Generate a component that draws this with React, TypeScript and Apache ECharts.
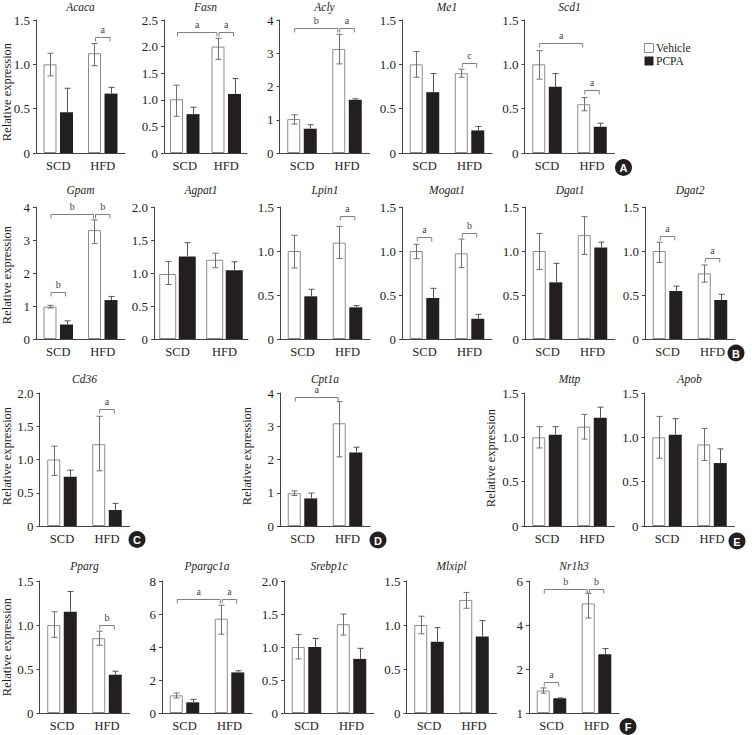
import React, { useEffect, useRef } from 'react';
import * as echarts from 'echarts';

// ---------- data ----------
const genes = ['Acaca', 'Fasn', 'Acly', 'Me1', 'Scd1', 'Gpam', 'Agpat1', 'Lpin1', 'Mogat1', 'Dgat1', 'Dgat2', 'Cd36', 'Cpt1a', 'Mttp', 'Apob', 'Pparg', 'Ppargc1a', 'Srebp1c', 'Mlxipl', 'Nr1h3'];
const diets = ['SCD', 'HFD'];
const treatments = ['Vehicle', 'PCPA'];
const panelLetters = ['A', 'B', 'C', 'D', 'E', 'F'];
const yAxisTitle = 'Relative expression';

// [SCD, HFD] per gene
const vehicleMean = [
  [1.0, 1.125], [1.01, 2.0], [1.02, 3.13], [1.0, 0.9], [1.0, 0.55],
  [0.98, 3.3], [0.985, 1.2], [1.0, 1.095], [1.0, 0.973], [1.0, 1.18], [1.0, 0.746],
  [1.0, 1.23], [0.985, 3.09], [1.0, 1.12], [1.0, 0.92],
  [1.0, 0.85], [1.07, 5.72], [1.0, 1.345], [1.0, 1.285], [1.02, 4.98],
];
const vehicleErrUp = [
  [0.125, 0.11], [0.265, 0.156], [0.13, 0.44], [0.144, 0.045], [0.155, 0.076],
  [0.04, 0.31], [0.19, 0.1], [0.178, 0.185], [0.076, 0.163], [0.2, 0.21], [0.1, 0.095],
  [0.2, 0.42], [0.07, 0.65], [0.12, 0.14], [0.236, 0.18],
  [0.15, 0.08], [0.14, 0.81], [0.19, 0.155], [0.1, 0.085], [0.12, 0.46],
];
const vehicleErrDown = [
  [0.13, 0.14], [0.32, 0.24], [0.15, 0.45], [0.145, 0.045], [0.167, 0.074],
  [0.04, 0.41], [0.16, 0.12], [0.193, 0.18], [0.087, 0.16], [0.21, 0.22], [0.13, 0.1],
  [0.24, 0.4], [0.07, 1.01], [0.12, 0.14], [0.235, 0.18],
  [0.14, 0.08], [0.16, 0.94], [0.18, 0.165], [0.1, 0.095], [0.12, 0.66],
];
const pcpaMean = [
  [0.46, 0.67], [0.73, 1.11], [0.73, 1.6], [0.686, 0.255], [0.746, 0.296],
  [0.44, 1.18], [1.25, 1.04], [0.485, 0.36], [0.466, 0.23], [0.644, 1.04], [0.545, 0.443],
  [0.74, 0.24], [0.83, 2.21], [1.03, 1.22], [1.03, 0.71],
  [1.15, 0.435], [0.645, 2.46], [1.0, 0.82], [0.81, 0.87], [0.67, 2.67],
];
const pcpaErr = [
  [0.27, 0.07], [0.13, 0.29], [0.12, 0.03], [0.21, 0.045], [0.15, 0.04],
  [0.11, 0.11], [0.21, 0.13], [0.08, 0.02], [0.11, 0.05], [0.216, 0.06], [0.055, 0.065],
  [0.1, 0.1], [0.16, 0.16], [0.09, 0.12], [0.18, 0.16],
  [0.23, 0.04], [0.18, 0.1], [0.13, 0.16], [0.16, 0.18], [0.015, 0.26],
];

const yMax = [1.5, 2.5, 4, 1.5, 1.5, 4, 2, 1.5, 1.5, 1.5, 1.5, 2, 4, 1.5, 1.5, 1.5, 8, 2, 1.5, 6];
const yStep = [0.5, 0.5, 1, 0.5, 0.5, 1, 0.5, 0.5, 0.5, 0.5, 0.5, 0.5, 1, 0.5, 0.5, 0.5, 2, 0.5, 0.5, 2];

const ticks15 = ['0', '0.5', '1.0', '1.5'];
const ticks20 = ['0', '0.5', '1.0', '1.5', '2.0'];
const ticks25 = ['0', '0.5', '1.0', '1.5', '2.0', '2.5'];
const ticks4 = ['0', '1', '2', '3', '4'];
const ticks8 = ['0', '2', '4', '6', '8'];
const ticksNr1h3 = ['1', '2', '4', '6'];
const yTickLabels = [
  ticks15, ticks25, ticks4, ticks15, ticks15,
  ticks4, ticks20, ticks15, ticks15, ticks15, ticks15,
  ticks20, ticks4, ticks15, ticks15,
  ticks15, ticks8, ticks20, ticks15, ticksNr1h3,
];

// significance brackets: [fromBar, toBar, yValue, label]; bars 0=SCD Vehicle,1=SCD PCPA,2=HFD Vehicle,3=HFD PCPA
const brackets: [number, number, number, string][][] = [
  [[2, 3, 1.31, 'a']],
  [[0, 2, 2.28, 'a'], [2, 3, 2.28, 'a']],
  [[0, 2, 3.75, 'b'], [2, 3, 3.75, 'a']],
  [[2, 3, 1.02, 'c']],
  [[0, 2, 1.24, 'a'], [2, 3, 0.71, 'a']],
  [[0, 2, 3.8, 'b'], [2, 3, 3.8, 'b'], [0, 1, 1.42, 'b']],
  [],
  [[2, 3, 1.4, 'a']],
  [[0, 1, 1.155, 'a'], [2, 3, 1.21, 'b']],
  [],
  [[0, 1, 1.17, 'a'], [2, 3, 0.92, 'a']],
  [[2, 3, 1.76, 'a']],
  [[0, 2, 3.88, 'a']],
  [],
  [],
  [[2, 3, 1.0, 'b']],
  [[0, 2, 6.93, 'a'], [2, 3, 6.93, 'a']],
  [],
  [],
  [[0, 1, 1.4, 'a'], [0, 2, 5.65, 'b'], [2, 3, 5.65, 'b']],
];

// ---------- layout (positions / sizes) ----------
// [left, top, width, height, barWidth, barGapRatio, titleY]
const panelLayout = [
  [36, 20, 89, 133, 13, 0.27, 7],
  [164, 20, 83, 133, 13, 0.27, 7],
  [279.5, 20, 90, 133, 13, 0.27, 7],
  [402, 20, 90, 133, 13, 0.27, 7],
  [524.5, 20, 90, 133, 13, 0.27, 7],
  [36, 207, 89, 132, 13, 0.27, 190],
  [154, 207, 94, 132, 17, 0.15, 190],
  [280, 207, 90, 132, 13, 0.27, 190],
  [402, 207, 90, 132, 13, 0.27, 190],
  [525, 207, 90, 132, 13, 0.27, 190],
  [645, 207, 90, 132, 13, 0.27, 190],
  [39.5, 393, 90, 133, 13, 0.27, 379],
  [280, 393, 90, 133, 13, 0.27, 379],
  [524.5, 393, 90, 133, 13, 0.27, 379],
  [644.5, 393, 90, 133, 13, 0.27, 379],
  [39.5, 581, 90, 132, 13, 0.27, 566],
  [162, 581, 90, 132, 13, 0.27, 566],
  [284, 581, 90, 132, 13, 0.27, 566],
  [406.5, 581, 90, 132, 13, 0.27, 566],
  [529, 581, 90, 132, 13, 0.27, 566],
];
const yNamePos = [[7, 92], [7, 275], [7, 456], [247, 456], [491, 458], [7, 647]];
const letterPos = [[623.5, 167.5], [736, 353], [137, 539.5], [378, 540], [737, 541], [628, 726.5]];

const SERIF = 'Liberation Serif, Times New Roman, serif';
const TXT = '#231f20';
const AXIS = '#444';
const BLACK = '#231f20';

function buildOption() {
  const grid: any[] = [];
  const xAxis: any[] = [];
  const yAxis: any[] = [];
  const series: any[] = [];
  const graphic: any[] = [];

  genes.forEach((gene, i) => {
    const [L, T, W, H, bw, gap, titleY] = panelLayout[i];
    const off = (bw * (1 + gap)) / 2;
    grid.push({ left: L, top: T, width: W, height: H, containLabel: false });
    xAxis.push({
      type: 'category', gridIndex: i, data: diets,
      axisLine: { show: true, lineStyle: { color: AXIS, width: 1 } },
      axisTick: { show: false },
      axisLabel: { color: TXT, fontFamily: SERIF, fontSize: 12.5, margin: 6, interval: 0 },
    });
    yAxis.push({
      type: 'value', gridIndex: i, min: 0, max: yMax[i], interval: yStep[i],
      axisLine: { show: true, lineStyle: { color: AXIS, width: 1 } },
      axisTick: { show: true, length: 3, lineStyle: { color: AXIS } },
      splitLine: { show: false },
      axisLabel: {
        color: TXT, fontFamily: SERIF, fontSize: 13, margin: 6,
        formatter: (v: number) => yTickLabels[i][Math.round(v / yStep[i])] ?? '',
      },
    });
    series.push({
      type: 'bar', name: treatments[0], xAxisIndex: i, yAxisIndex: i, data: vehicleMean[i],
      barWidth: bw, barGap: `${gap * 100}%`, z: 2, silent: true,
      itemStyle: { color: '#ffffff', borderColor: '#8c8c8c', borderWidth: 1 },
    });
    series.push({
      type: 'bar', name: treatments[1], xAxisIndex: i, yAxisIndex: i, data: pcpaMean[i],
      barWidth: bw, barGap: `${gap * 100}%`, z: 2, silent: true,
      itemStyle: { color: BLACK },
    });
    [0, 1].forEach((t) => {
      const isVeh = t === 0;
      series.push({
        type: 'custom', xAxisIndex: i, yAxisIndex: i, z: 3, silent: true,
        encode: { x: 0, y: 1 },
        data: [0, 1].map((k) => isVeh
          ? [k, vehicleMean[i][k], vehicleErrUp[i][k], vehicleErrDown[i][k]]
          : [k, pcpaMean[i][k], pcpaErr[i][k], 0]),
        renderItem: (params: any, api: any) => {
          const k = params.dataIndex;
          const m = api.value(1), up = api.value(2), dn = api.value(3);
          const pTop = api.coord([k, m + up]);
          const pBot = api.coord([k, m - dn]);
          const x = Math.round(pTop[0] + (isVeh ? -off : off)) + 0.5;
          const col = isVeh ? '#6f6f6f' : '#555';
          const cap = 3;
          const st = { stroke: col, lineWidth: 1 };
          const children: any[] = [
            { type: 'line', shape: { x1: x, y1: pTop[1], x2: x, y2: pBot[1] }, style: st },
            { type: 'line', shape: { x1: x - cap, y1: pTop[1], x2: x + cap, y2: pTop[1] }, style: st },
          ];
          if (isVeh) children.push({ type: 'line', shape: { x1: x - cap, y1: pBot[1], x2: x + cap, y2: pBot[1] }, style: st });
          return { type: 'group', children };
        },
      });
    });
    if (brackets[i].length) {
      series.push({
        type: 'custom', xAxisIndex: i, yAxisIndex: i, z: 4, silent: true,
        encode: { x: 0, y: 1 },
        data: brackets[i].map((b) => [Math.floor(b[0] / 2), b[2]]),
        renderItem: (params: any, api: any) => {
          const [from, to, yv, lab] = brackets[i][params.dataIndex];
          const xOf = (bar: number) => api.coord([Math.floor(bar / 2), yv])[0] + (bar % 2 === 0 ? -off : off);
          const x1 = xOf(from) + 1;
          const x2 = xOf(to) - 1;
          const y = Math.round(api.coord([0, yv])[1]) + 0.5;
          return {
            type: 'group',
            children: [
              {
                type: 'polyline',
                shape: { points: [[x1, y + 4], [x1, y], [x2, y], [x2, y + 4]] },
                style: { stroke: '#808080', fill: 'none', lineWidth: 1 },
              },
              {
                type: 'text', x: (x1 + x2) / 2, y: y - 3,
                style: {
                  text: lab, fill: '#444', font: `10px ${SERIF}`,
                  textAlign: 'center', align: 'center', textVerticalAlign: 'bottom', verticalAlign: 'bottom',
                },
              },
            ],
          };
        },
      });
    }
    graphic.push({
      type: 'text', x: L + W / 2, y: titleY, silent: true,
      style: {
        text: gene, fill: TXT, font: `italic 11.5px ${SERIF}`,
        textAlign: 'center', align: 'center', textVerticalAlign: 'middle', verticalAlign: 'middle',
      },
    });
  });

  yNamePos.forEach(([x, y]) => {
    graphic.push({
      type: 'text', x, y, rotation: Math.PI / 2, silent: true,
      style: {
        text: yAxisTitle, fill: TXT, font: `12.5px ${SERIF}`,
        textAlign: 'center', align: 'center', textVerticalAlign: 'middle', verticalAlign: 'middle',
      },
    });
  });

  letterPos.forEach(([x, y], j) => {
    graphic.push({ type: 'circle', shape: { cx: x, cy: y, r: 8.5 }, style: { fill: BLACK }, silent: true });
    graphic.push({
      type: 'text', x, y: y + 0.5, silent: true,
      style: {
        text: panelLetters[j], fill: '#fff', font: 'bold 11px Liberation Sans, Arial, sans-serif',
        textAlign: 'center', align: 'center', textVerticalAlign: 'middle', verticalAlign: 'middle',
      },
    });
  });

  // legend
  graphic.push({ type: 'rect', shape: { x: 644.5, y: 43.5, width: 9, height: 9 }, style: { fill: '#fff', stroke: '#8c8c8c', lineWidth: 1 }, silent: true });
  graphic.push({ type: 'rect', shape: { x: 644.5, y: 56.5, width: 9, height: 9 }, style: { fill: BLACK }, silent: true });
  treatments.forEach((t, j) => {
    graphic.push({
      type: 'text', x: 656, y: 48 + j * 13, silent: true,
      style: {
        text: t, fill: TXT, font: `11.5px ${SERIF}`,
        textAlign: 'left', align: 'left', textVerticalAlign: 'middle', verticalAlign: 'middle',
      },
    });
  });

  return {
    animation: false,
    backgroundColor: '#ffffff',
    grid, xAxis, yAxis, series, graphic,
  };
}

export default function App() {
  const ref = useRef<HTMLDivElement>(null);
  useEffect(() => {
    document.body.style.margin = '0';
    const chart = echarts.init(ref.current as HTMLDivElement, undefined, { renderer: 'svg' });
    chart.setOption(buildOption() as any);
    return () => chart.dispose();
  }, []);
  return <div ref={ref} style={{ width: 752, height: 735, background: '#fff' }} />;
}
